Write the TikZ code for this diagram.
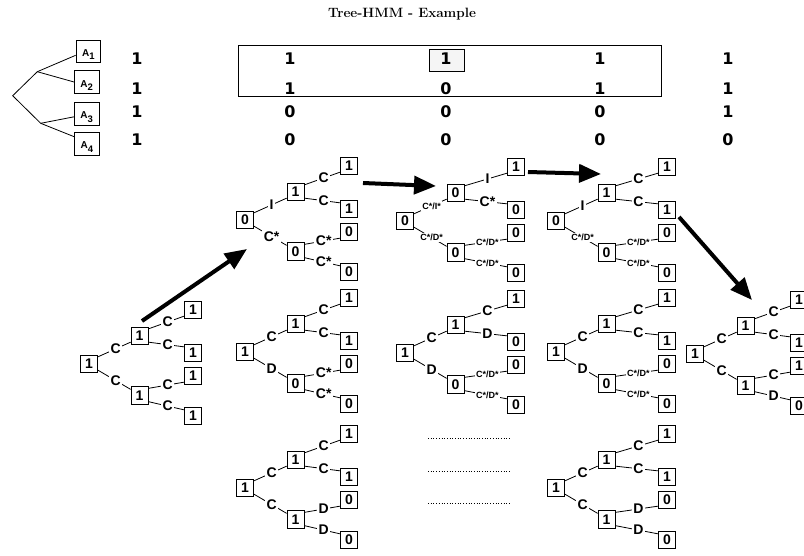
\documentclass[tikz,border=0pt]{standalone}
\usepackage{fontspec}
\newfontfamily\hv{Liberation Sans}
\newfontfamily\dv{DejaVu Sans}
\usetikzlibrary{arrows.meta}
\newcommand\sm{\fontsize{9}{9}\selectfont}
\newcommand\treevals[7]{\def\tvr{#1}\def\tva{#2}\def\tvb{#3}\def\tvc{#4}\def\tvd{#5}\def\tve{#6}\def\tvf{#7}}
\newcommand\treelbls[6]{\def\tla{#1}\def\tlb{#2}\def\tlc{#3}\def\tld{#4}\def\tle{#5}\def\tlf{#6}}
\newcommand\drawtree[4]{%
  \node[tbox] (#1r) at (#2,#3) {\tvr};
  \node[tbox] (#1a) at (#2+50.5,#3-28) {\tva};
  \node[tbox] (#1b) at (#2+50.5,#3+31.5) {\tvb};
  \node[tbox] (#1c) at (#2+#4,#3-54) {\tvc};
  \node[tbox] (#1d) at (#2+#4,#3-11) {\tvd};
  \node[tbox] (#1e) at (#2+#4,#3+12) {\tve};
  \node[tbox] (#1f) at (#2+#4,#3+52) {\tvf};
  \draw[edge] ([yshift=-2pt]#1r.north east) -- node[lbl]{\tla} ([yshift=3pt]#1a.south west);
  \draw[edge] ([yshift=3pt]#1r.south east) -- node[lbl]{\tlb} ([yshift=-3pt]#1b.north west);
  \draw[edge] ([yshift=-2pt]#1a.north east) -- node[lbl]{\tlc} ([yshift=3pt]#1c.south west);
  \draw[edge] ([yshift=3pt]#1a.south east) -- node[lbl]{\tld} ([yshift=-3pt]#1d.north west);
  \draw[edge] ([yshift=-2pt]#1b.north east) -- node[lbl]{\tle} ([yshift=3pt]#1e.south west);
  \draw[edge] ([yshift=3pt]#1b.south east) -- node[lbl]{\tlf} ([yshift=-3pt]#1f.north west);
}
\tikzset{
  tbox/.style={draw, line width=0.8pt, minimum width=17pt, minimum height=17.5pt, inner sep=0pt, font=\hv\bfseries\fontsize{14}{14}\selectfont},
  lbl/.style={fill=white, inner sep=1.5pt, pos=.54, font=\hv\bfseries\fontsize{14}{14}\selectfont},
  edge/.style={line width=0.8pt},
  bigarrow/.style={line width=4pt, -{Triangle[length=22pt,width=18pt]}},
  abox/.style={draw, line width=0.8pt, minimum width=24.5pt, minimum height=22.5pt, inner sep=0pt, text height=10.3pt, text depth=0pt, font=\hv\bfseries\fontsize{10}{10}\selectfont},
  num/.style={inner sep=0pt, font=\dv\bfseries\fontsize{16}{16}\selectfont},
}
\newcommand\asub[1]{A\raisebox{-3.5pt}{\fontsize{9.5}{9.5}\selectfont #1}}
\begin{document}
\begin{tikzpicture}[x=1pt,y=-1pt]
\useasboundingbox (0,0) rectangle (804,555);
% title
\node[font=\bfseries\fontsize{13.5}{13.5}\selectfont] (title) at (402,14) {Tree-HMM - Example};
% attribute tree
\node[abox] (A1) at (88.3,51.3) {\asub{1}};
\node[abox] (A2) at (86.7,82) {\asub{2}};
\node[abox] (A3) at (86.7,113.8) {\asub{3}};
\node[abox] (A4) at (87,143.8) {\asub{4}};
\coordinate (j0) at (12.7,95.7);
\coordinate (j1) at (37.3,71.7);
\coordinate (j2) at (40.7,123.3);
\draw[edge] (j1) -- (j0) -- (j2);
\draw[edge] (j1) -- ([yshift=-4pt]A1.west);
\draw[edge] (j1) -- (A2.west);
\draw[edge] (j2) -- ([yshift=-3pt]A3.west);
\draw[edge] (j2) -- ([yshift=7pt]A4.west);
% matrix
\node[draw, line width=0.8pt, minimum width=423pt, minimum height=51pt, inner sep=0pt] (frame) at (449.5,70.5) {};
\node[draw, line width=0.6pt, fill=black!4, minimum width=35pt, minimum height=22.4pt, inner sep=0pt] (hl) at (446.8,60.5) {};
\foreach \r/\y/\va/\vb/\vc/\vd/\ve in {1/58.3/1/1/1/1/1, 2/88.3/1/1/0/1/1, 3/111.7/1/0/0/0/1, 4/140/1/0/0/0/0}{
  \node[num] (m\r a) at (137,\y) {\va};
  \node[num] (m\r b) at (290,\y) {\vb};
  \node[num] (m\r c) at (446,\y) {\vc};
  \node[num] (m\r d) at (600,\y) {\vd};
  \node[num] (m\r e) at (728,\y) {\ve};
}
% trees
\treevals{1}{1}{1}{1}{1}{1}{1}\treelbls{C}{C}{C}{C}{C}{C}\drawtree{t0}{89}{364}{104}
\treevals{0}{1}{0}{1}{1}{0}{0}\treelbls{I}{C*}{C}{C}{C*}{C*}\drawtree{ta}{245}{220}{104}
\treevals{1}{1}{0}{1}{1}{0}{0}\treelbls{C}{D}{C}{C}{C*}{C*}\drawtree{tb}{245}{352}{104}
\treevals{1}{1}{1}{1}{1}{0}{0}\treelbls{C}{C}{C}{C}{D}{D}\drawtree{tc}{245}{488}{104}
\treevals{0}{0}{0}{1}{0}{0}{0}\treelbls{\sm C*/I*}{\sm C*/D*}{I}{C*}{\sm C*/D*}{\sm C*/D*}\drawtree{td}{405}{221}{111}
\treevals{1}{1}{0}{1}{0}{0}{0}\treelbls{C}{D}{C}{D}{\sm C*/D*}{\sm C*/D*}\drawtree{te}{405}{353}{111}
\treevals{0}{1}{0}{1}{1}{0}{0}\treelbls{I}{\sm C*/D*}{C}{C}{\sm C*/D*}{\sm C*/D*}\drawtree{tf}{556}{221}{111}
\treevals{1}{1}{0}{1}{1}{0}{0}\treelbls{C}{D}{C}{C}{\sm C*/D*}{\sm C*/D*}\drawtree{tg}{556}{352}{111}
\treevals{1}{1}{1}{1}{1}{0}{0}\treelbls{C}{C}{C}{C}{D}{D}\drawtree{th}{556}{488}{111}
\treevals{1}{1}{1}{1}{1}{1}{0}\treelbls{C}{C}{C}{C}{C}{D}\drawtree{ti}{695}{354}{104}
% dotted placeholders
\foreach \y in {438,471,503}{\draw[dotted, line width=0.7pt] (428,\y) -- (510,\y);}
% big arrows
\coordinate (a1s) at (142,321); \coordinate (a1e) at (247,249);
\coordinate (a2s) at (363,183); \coordinate (a2e) at (436,186);
\coordinate (a3s) at (528,172); \coordinate (a3e) at (601,174);
\coordinate (a4s) at (679,217); \coordinate (a4e) at (752,300);
\draw[bigarrow] (a1s) -- (a1e);
\draw[bigarrow] (a2s) -- (a2e);
\draw[bigarrow] (a3s) -- (a3e);
\draw[bigarrow] (a4s) -- (a4e);
\end{tikzpicture}
\end{document}
